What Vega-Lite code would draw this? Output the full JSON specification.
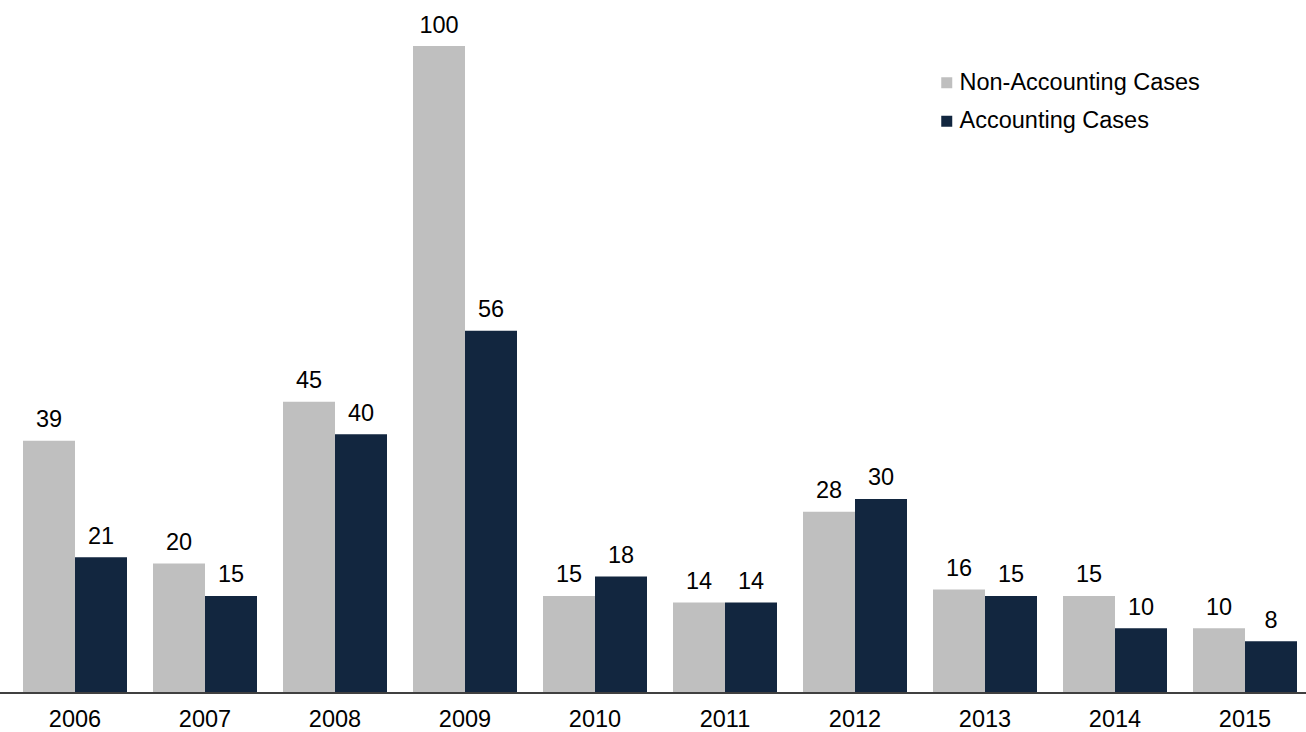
{
  "$schema": "https://vega.github.io/schema/vega-lite/v6.json",
  "width": 1306,
  "height": 647,
  "padding": {"left": 0, "right": 0, "top": 46, "bottom": 39},
  "autosize": {"type": "none"},
  "background": "white",
  "config": {
    "view": {"stroke": null},
    "font": "Liberation Sans",
    "text": {"font": "Liberation Sans"}
  },
  "data": {
    "values": [
      {"year": "2006", "series": "Non-Accounting Cases", "value": 39},
      {"year": "2006", "series": "Accounting Cases", "value": 21},
      {"year": "2007", "series": "Non-Accounting Cases", "value": 20},
      {"year": "2007", "series": "Accounting Cases", "value": 15},
      {"year": "2008", "series": "Non-Accounting Cases", "value": 45},
      {"year": "2008", "series": "Accounting Cases", "value": 40},
      {"year": "2009", "series": "Non-Accounting Cases", "value": 100},
      {"year": "2009", "series": "Accounting Cases", "value": 56},
      {"year": "2010", "series": "Non-Accounting Cases", "value": 15},
      {"year": "2010", "series": "Accounting Cases", "value": 18},
      {"year": "2011", "series": "Non-Accounting Cases", "value": 14},
      {"year": "2011", "series": "Accounting Cases", "value": 14},
      {"year": "2012", "series": "Non-Accounting Cases", "value": 28},
      {"year": "2012", "series": "Accounting Cases", "value": 30},
      {"year": "2013", "series": "Non-Accounting Cases", "value": 16},
      {"year": "2013", "series": "Accounting Cases", "value": 15},
      {"year": "2014", "series": "Non-Accounting Cases", "value": 15},
      {"year": "2014", "series": "Accounting Cases", "value": 10},
      {"year": "2015", "series": "Non-Accounting Cases", "value": 10},
      {"year": "2015", "series": "Accounting Cases", "value": 8}
    ]
  },
  "layer": [
    {
      "mark": {"type": "bar"},
      "encoding": {
        "x": {
          "field": "year", "type": "nominal",
          "scale": {"range": [23, 1297], "paddingInner": 0.2, "paddingOuter": 0},
          "axis": {"title": null, "domain": false, "ticks": false, "labelAngle": 0, "labelFontSize": 23.5, "labelColor": "black", "labelPadding": 14, "labelFont": "Liberation Sans"}
        },
        "xOffset": {"field": "series", "type": "nominal", "sort": ["Non-Accounting Cases", "Accounting Cases"], "scale": {"paddingInner": 0, "paddingOuter": 0}},
        "y": {"field": "value", "type": "quantitative", "scale": {"domain": [0, 100], "nice": false}, "axis": null},
        "color": {
          "field": "series", "type": "nominal",
          "sort": ["Non-Accounting Cases", "Accounting Cases"],
          "scale": {"domain": ["Non-Accounting Cases", "Accounting Cases"], "range": ["#BFBFBF", "#12263F"]},
          "legend": {
            "title": null, "orient": "none", "legendX": 935, "legendY": 25,
            "symbolType": "square", "symbolSize": 121, "symbolStrokeWidth": 0,
            "labelFontSize": 23.5, "labelColor": "black", "labelFont": "Liberation Sans", "labelLimit": 0,
            "labelOffset": 1, "rowPadding": 13.5, "padding": 0
          }
        }
      }
    },
    {
      "mark": {"type": "text", "baseline": "alphabetic", "dy": -13.5, "fontSize": 23.5, "color": "black", "font": "Liberation Sans"},
      "encoding": {
        "x": {"field": "year", "type": "nominal"},
        "xOffset": {"field": "series", "type": "nominal", "sort": ["Non-Accounting Cases", "Accounting Cases"]},
        "y": {"field": "value", "type": "quantitative"},
        "text": {"field": "value", "type": "quantitative"}
      }
    },
    {
      "mark": {"type": "rule", "color": "#404040", "strokeWidth": 1.5},
      "encoding": {"y": {"datum": 0}}
    }
  ]
}
